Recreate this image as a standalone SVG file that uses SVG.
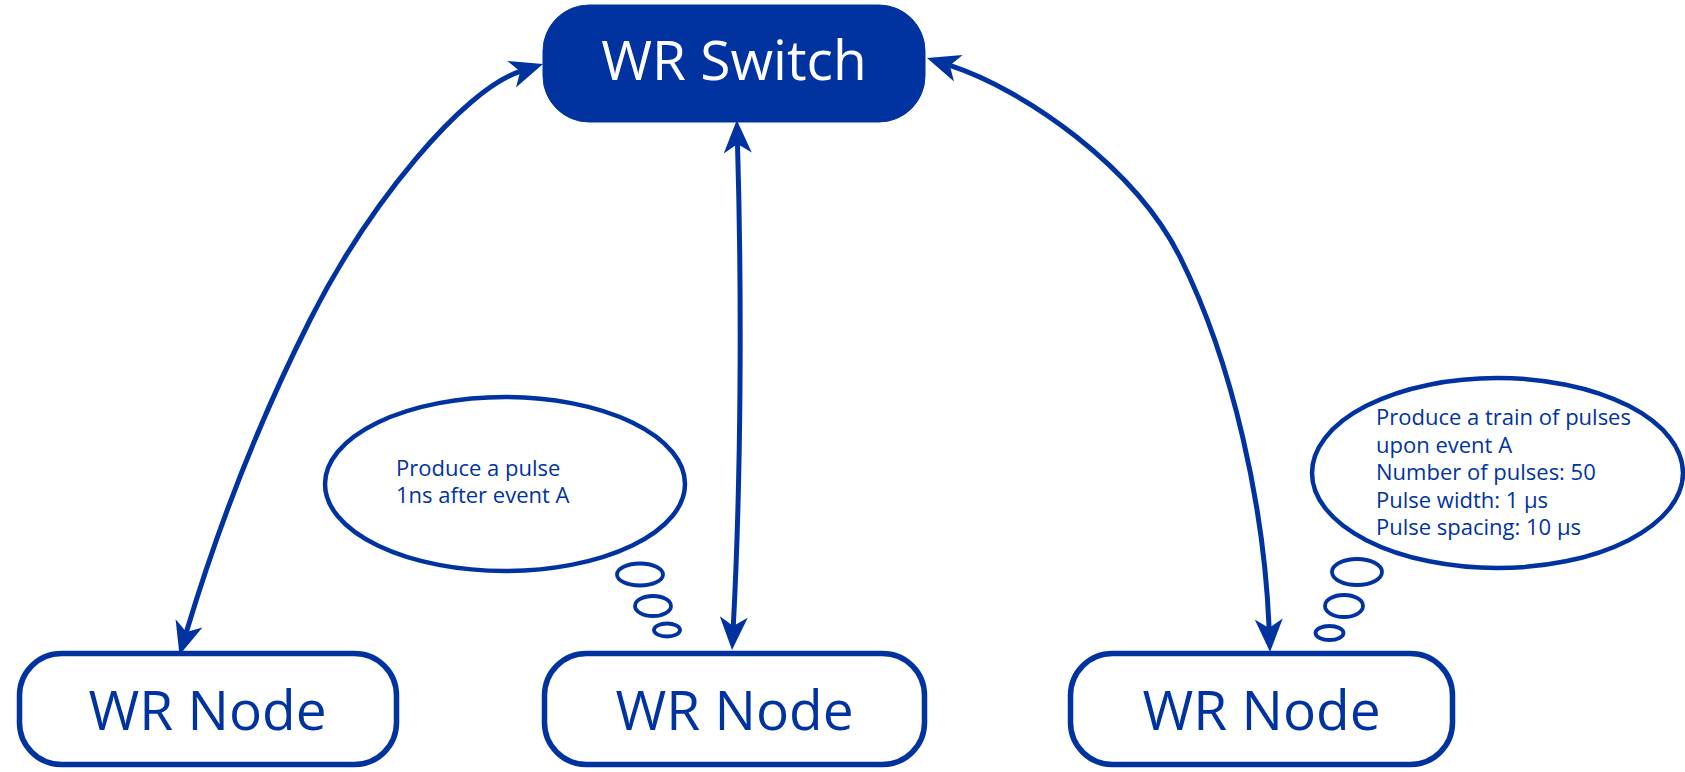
<svg xmlns="http://www.w3.org/2000/svg" width="1685" height="772" viewBox="0 0 1685 772">
  <defs>
    <style>
      .node { fill: #ffffff; stroke: #0033A0; stroke-width: 5.5; }
      .switch { fill: #0033A0; stroke: #0033A0; stroke-width: 1; }
      .label { font-family: "Open Sans", "Noto Sans", sans-serif; font-size: 55px; text-anchor: middle; }
      .bubble { fill: #ffffff; stroke: #0033A0; stroke-width: 4.5; }
      .puff { fill: none; stroke: #0033A0; stroke-width: 3.8; }
      .note { font-family: "Open Sans", "Noto Sans", sans-serif; font-size: 22px; fill: #0033A0; }
      .edge { fill: none; stroke: #0033A0; stroke-width: 5; }
    </style>
    <marker id="arrow" markerUnits="userSpaceOnUse" viewBox="-12 -16 38 32" refX="0" refY="0" markerWidth="38" markerHeight="32" orient="auto-start-reverse">
      <path d="M24,0 L-9,-14 L0,0 L-9,14 Z" fill="#0033A0"/>
    </marker>
  </defs>

  <g id="connectors">
    <path class="edge" marker-start="url(#arrow)" marker-end="url(#arrow)"
      d="M186.4,632 C218.5,525 259.6,420 310,320 C368.5,203.9 463.2,90 520.2,71.4"/>
    <path class="edge" marker-start="url(#arrow)" marker-end="url(#arrow)"
      d="M737.5,144 C742,300 741,480 733.3,626"/>
    <path class="edge" marker-start="url(#arrow)" marker-end="url(#arrow)"
      d="M949.8,65.4 C1025.8,90.2 1135.3,167.6 1180,257 C1233.6,364.3 1264.3,508 1269.1,628"/>
  </g>

  <g id="wr-switch">
    <rect class="switch" x="543" y="5" width="382" height="117" rx="46" ry="46"/>
    <text class="label" x="734" y="80" fill="#ffffff">WR Switch</text>
  </g>

  <g id="wr-node-left">
    <rect class="node" x="19.5" y="653.5" width="377" height="111" rx="42" ry="42"/>
    <text class="label" x="207.5" y="730" fill="#0033A0">WR Node</text>
  </g>

  <g id="wr-node-middle">
    <rect class="node" x="544.5" y="653.5" width="380" height="111" rx="42" ry="42"/>
    <text class="label" x="734.5" y="730" fill="#0033A0">WR Node</text>
  </g>

  <g id="wr-node-right">
    <rect class="node" x="1070.5" y="653.5" width="382" height="111" rx="42" ry="42"/>
    <text class="label" x="1261.5" y="730" fill="#0033A0">WR Node</text>
  </g>

  <g id="thought-left">
    <ellipse class="bubble" cx="505" cy="484" rx="180" ry="87"/>
    <text class="note" x="396" y="476">Produce a pulse</text>
    <text class="note" x="396" y="503">1ns after event A</text>
    <ellipse class="puff" cx="640" cy="574.5" rx="23" ry="11"/>
    <ellipse class="puff" cx="653" cy="606" rx="18" ry="10"/>
    <ellipse class="puff" cx="667" cy="630" rx="13" ry="6.5"/>
  </g>

  <g id="thought-right">
    <ellipse class="bubble" cx="1497.5" cy="473" rx="185.5" ry="95"/>
    <text class="note" x="1376" y="425">Produce a train of pulses</text>
    <text class="note" x="1376" y="453">upon event A</text>
    <text class="note" x="1376" y="480">Number of pulses: 50</text>
    <text class="note" x="1376" y="508">Pulse width: 1 µs</text>
    <text class="note" x="1376" y="535">Pulse spacing: 10 µs</text>
    <ellipse class="puff" cx="1357" cy="572" rx="25" ry="13"/>
    <ellipse class="puff" cx="1344" cy="606" rx="19" ry="11"/>
    <ellipse class="puff" cx="1329.5" cy="633" rx="14" ry="7"/>
  </g>
</svg>
